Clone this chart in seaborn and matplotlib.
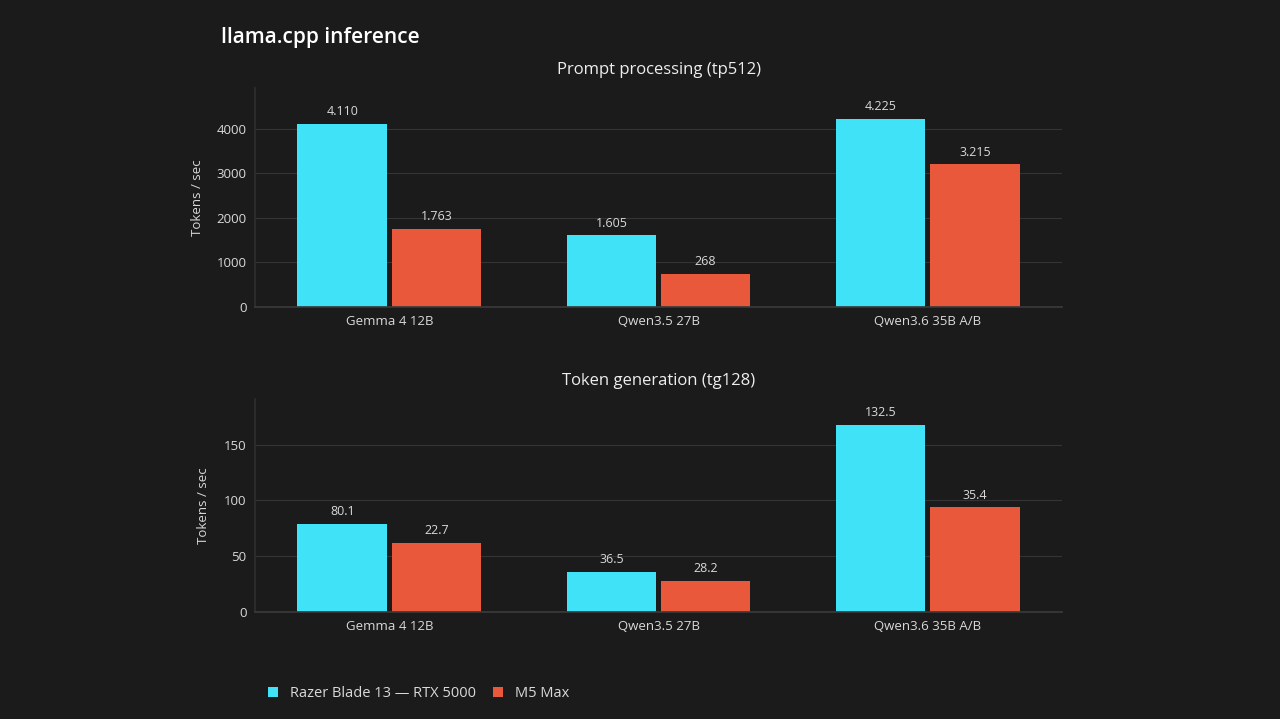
import matplotlib.pyplot as plt
from matplotlib.patches import Patch
import pandas as pd
import seaborn as sns

# data (bar heights and printed labels differ in the source)
models = ["Gemma 4 12B", "Qwen3.5 27B", "Qwen3.6 35B A/B"]
devices = ["Razer Blade 13 — RTX 5000", "M5 Max"]

pp_rtx = [4110, 1605, 4225]
pp_m5 = [1750, 750, 3200]
pp_rtx_labels = ["4.110", "1.605", "4.225"]
pp_m5_labels = ["1.763", "268", "3.215"]

tg_rtx = [79, 36, 168]
tg_m5 = [62, 28, 94]
tg_rtx_labels = ["80.1", "36.5", "132.5"]
tg_m5_labels = ["22.7", "28.2", "35.4"]

bg = "#1b1b1b"
txt = "#d9d9d9"
cyan = "#3fe2f7"
orange = "#e9583a"

sns.set_theme(style="dark")
plt.rcParams["font.family"] = ["Open Sans", "DejaVu Sans"]

fig = plt.figure(figsize=(12.8, 7.19), dpi=100, facecolor=bg)
ax1 = fig.add_axes([0.199, 0.573, 0.631, 0.305])
ax2 = fig.add_axes([0.199, 0.149, 0.631, 0.296])


def draw(ax, rtx, m5, rtx_lab, m5_lab, title, ymax, ticks):
    df = pd.DataFrame({
        "model": models * 2,
        "device": [devices[0]] * 3 + [devices[1]] * 3,
        "value": rtx + m5,
    })
    sns.barplot(data=df, x="model", y="value", hue="device",
                palette=[cyan, orange], width=0.70, gap=0.05,
                saturation=1, legend=False, ax=ax)
    ax.set_facecolor(bg)
    for c in ax.containers:
        for p in c:
            p.set_edgecolor("none")
    ax.bar_label(ax.containers[0], labels=rtx_lab, padding=4, color=txt, fontsize=9)
    ax.bar_label(ax.containers[1], labels=m5_lab, padding=4, color=txt, fontsize=9)
    ax.set_ylim(0, ymax)
    ax.set_xlim(-0.5, 2.5)
    ax.set_yticks(ticks)
    ax.grid(axis="y", color="#343434", linewidth=0.8)
    ax.set_axisbelow(True)
    for s in ["top", "right"]:
        ax.spines[s].set_visible(False)
    ax.spines["left"].set_color("#2e2e2e")
    ax.spines["bottom"].set_color("#3a3a3a")
    ax.tick_params(colors=txt, labelsize=9.5, length=0, pad=6)
    ax.set_xlabel("")
    ax.set_ylabel("Tokens / sec", color=txt, fontsize=9.5, labelpad=8)
    ax.set_title(title, color="#eeeeee", fontsize=12, pad=10)


draw(ax1, pp_rtx, pp_m5, pp_rtx_labels, pp_m5_labels,
     "Prompt processing (tp512)", 4920, [0, 1000, 2000, 3000, 4000])
draw(ax2, tg_rtx, tg_m5, tg_rtx_labels, tg_m5_labels,
     "Token generation (tg128)", 191, [0, 50, 100, 150])
ax1.yaxis.set_label_coords(-0.063, 0.5)
ax2.yaxis.set_label_coords(-0.055, 0.5)

fig.text(0.173, 0.948, "llama.cpp inference", color="white", fontsize=15,
         fontweight="semibold", va="center")

handles = [Patch(facecolor=cyan, edgecolor="none", label=devices[0]),
           Patch(facecolor=orange, edgecolor="none", label=devices[1])]
leg = fig.legend(handles=handles, loc="center left", bbox_to_anchor=(0.199, 0.035),
                 ncol=2, frameon=False, fontsize=10.5, handlelength=0.7, handleheight=0.7,
                 columnspacing=1.2, handletextpad=0.8)
for t in leg.get_texts():
    t.set_color(txt)

fig.savefig("out.png", facecolor=bg)
